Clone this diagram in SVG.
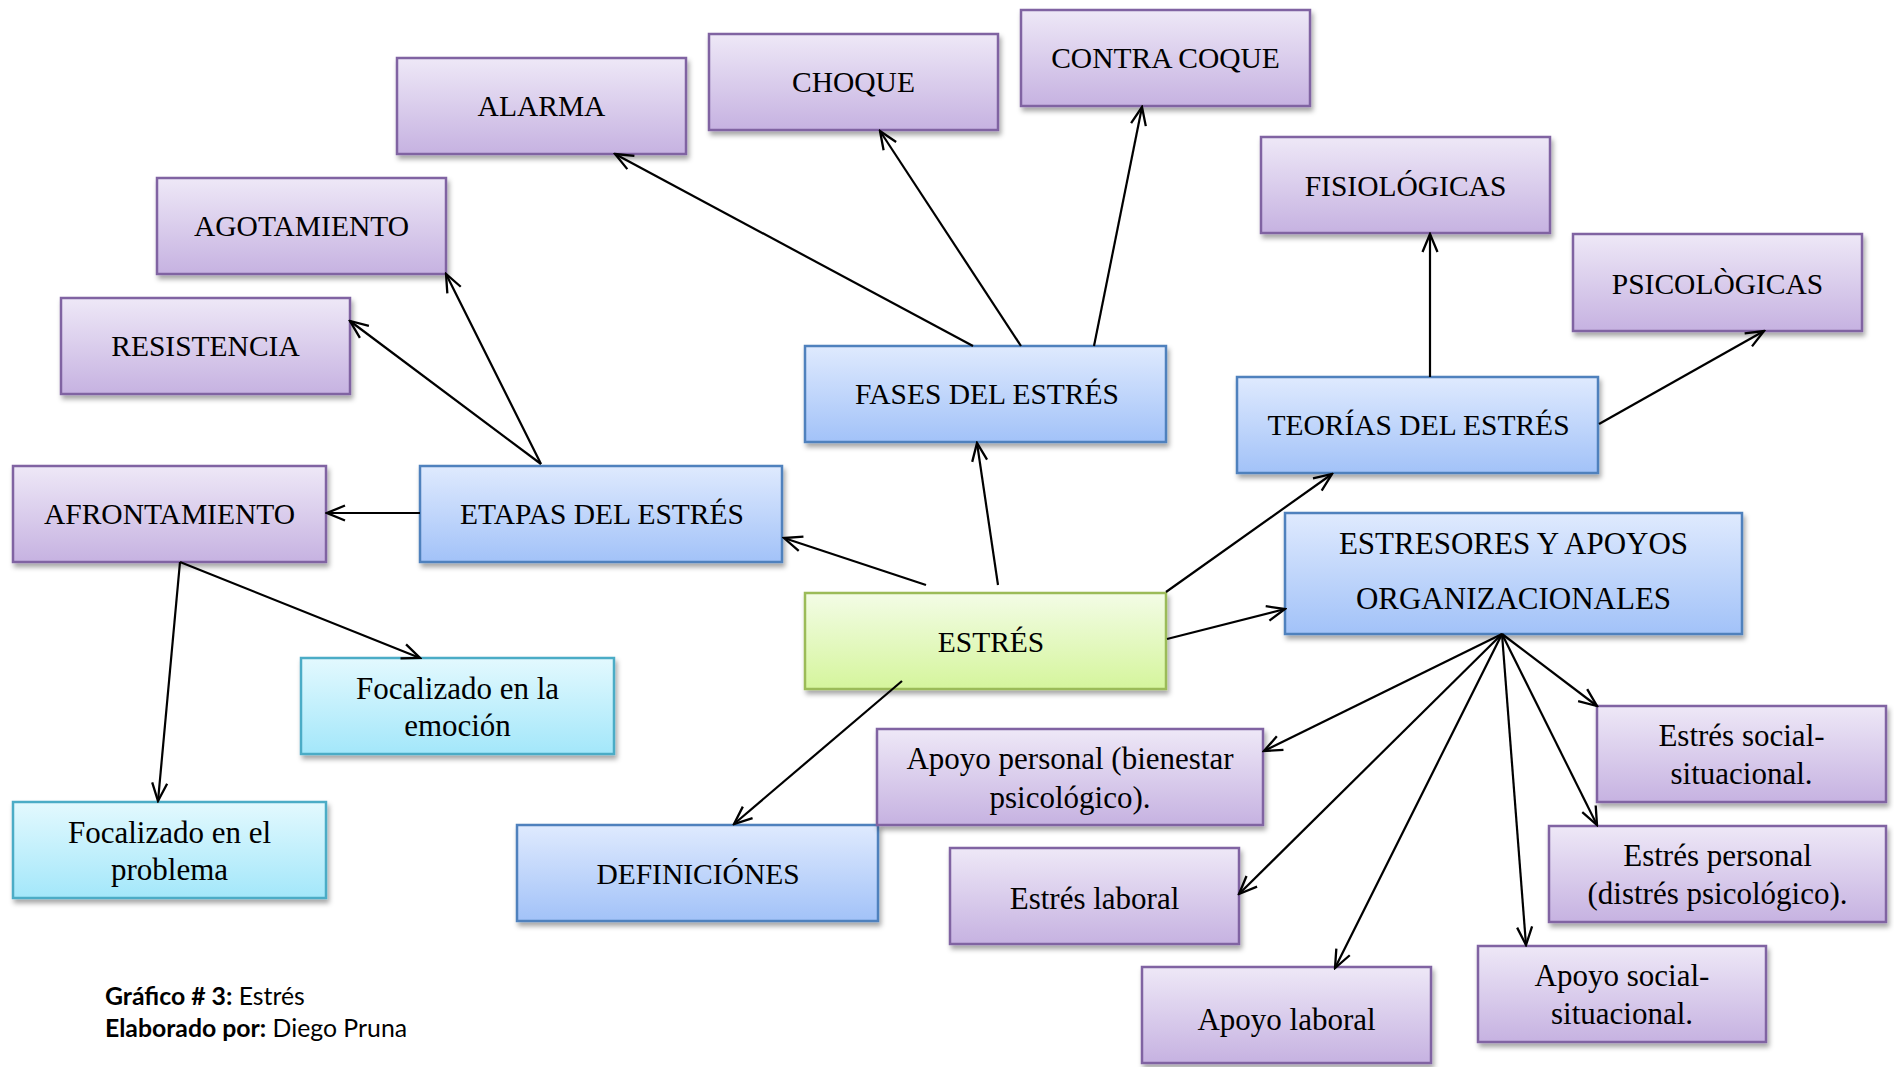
<svg xmlns="http://www.w3.org/2000/svg" width="1894" height="1067" viewBox="0 0 1894 1067">
<defs>
<linearGradient id="gP" x1="0" y1="0" x2="0" y2="1"><stop offset="0" stop-color="#eee8f7"/><stop offset="1" stop-color="#c6b2e1"/></linearGradient>
<linearGradient id="gB" x1="0" y1="0" x2="0" y2="1"><stop offset="0" stop-color="#dfeafe"/><stop offset="1" stop-color="#a2c2f8"/></linearGradient>
<linearGradient id="gG" x1="0" y1="0" x2="0" y2="1"><stop offset="0" stop-color="#f3fce6"/><stop offset="1" stop-color="#d5f59c"/></linearGradient>
<linearGradient id="gC" x1="0" y1="0" x2="0" y2="1"><stop offset="0" stop-color="#e3f9fe"/><stop offset="1" stop-color="#a3e7fa"/></linearGradient>
<filter id="sh" x="-5%" y="-5%" width="115%" height="125%"><feDropShadow dx="2" dy="4" stdDeviation="2.5" flood-color="#000" flood-opacity="0.35"/></filter>
<marker id="ah" viewBox="0 0 22 22" refX="20" refY="11" markerWidth="22" markerHeight="22" markerUnits="userSpaceOnUse" orient="auto"><path d="M2,3.5 L20,11 L2,18.5" fill="none" stroke="#000" stroke-width="2.3"/></marker>
<style>
.p{fill:url(#gP);stroke:#8064a2;stroke-width:2.5;filter:url(#sh)}
.b{fill:url(#gB);stroke:#4f81bd;stroke-width:2.5;filter:url(#sh)}
.g{fill:url(#gG);stroke:#9bbb59;stroke-width:2.5;filter:url(#sh)}
.c{fill:url(#gC);stroke:#4bacc6;stroke-width:2.5;filter:url(#sh)}
.t{font-family:"Liberation Serif","Times New Roman",serif;font-size:29.5px;fill:#000;text-anchor:middle}
.m{font-family:"Liberation Serif","Times New Roman",serif;font-size:31px;fill:#000;text-anchor:middle}
#conn line{stroke:#000;stroke-width:2.2;marker-end:url(#ah)}
.cap{font-family:Lato,"Liberation Sans",sans-serif;font-size:24.8px;fill:#000}
</style>
</defs>
<rect width="1894" height="1067" fill="#fff"/>
<g id="alarma"><rect class="p" x="397" y="58" width="289" height="96"/><text class="t" x="541.5" y="116">ALARMA</text></g>
<g id="choque"><rect class="p" x="709" y="34" width="289" height="96"/><text class="t" x="853.5" y="92">CHOQUE</text></g>
<g id="contra-coque"><rect class="p" x="1021" y="10" width="289" height="96"/><text class="t" x="1165.5" y="68">CONTRA COQUE</text></g>
<g id="agotamiento"><rect class="p" x="157" y="178" width="289" height="96"/><text class="t" x="301.5" y="236">AGOTAMIENTO</text></g>
<g id="resistencia"><rect class="p" x="61" y="298" width="289" height="96"/><text class="t" x="205.5" y="356">RESISTENCIA</text></g>
<g id="fisiologicas"><rect class="p" x="1261" y="137" width="289" height="96"/><text class="t" x="1405.5" y="196">FISIOLÓGICAS</text></g>
<g id="psicologicas"><rect class="p" x="1573" y="234" width="289" height="97"/><text class="t" x="1717.5" y="294">PSICOLÒGICAS</text></g>
<g id="fases"><rect class="b" x="805" y="346" width="361" height="96"/><text class="t" x="987" y="404">FASES DEL ESTRÉS</text></g>
<g id="teorias"><rect class="b" x="1237" y="377" width="361" height="96"/><text class="t" x="1418.5" y="435">TEORÍAS DEL ESTRÉS</text></g>
<g id="afrontamiento"><rect class="p" x="13" y="466" width="313" height="96"/><text class="t" x="169.5" y="524">AFRONTAMIENTO</text></g>
<g id="etapas"><rect class="b" x="420" y="466" width="362" height="96"/><text class="t" x="602" y="524">ETAPAS DEL ESTRÉS</text></g>
<g id="estresores"><rect class="b" x="1285" y="513" width="457" height="121"/><text class="m" x="1513.5" y="554">ESTRESORES Y APOYOS</text><text class="m" x="1513.5" y="609">ORGANIZACIONALES</text></g>
<g id="estres"><rect class="g" x="805" y="593" width="361" height="96"/><text class="t" x="991" y="652">ESTRÉS</text></g>
<g id="foc-emocion"><rect class="c" x="301" y="658" width="313" height="96"/><text class="m" x="457.5" y="699">Focalizado en la</text><text class="m" x="457.5" y="736">emoción</text></g>
<g id="foc-problema"><rect class="c" x="13" y="802" width="313" height="96"/><text class="m" x="169.5" y="843">Focalizado en el</text><text class="m" x="169.5" y="880">problema</text></g>
<g id="definiciones"><rect class="b" x="517" y="825" width="361" height="96"/><text class="t" x="698" y="884">DEFINICIÓNES</text></g>
<g id="apoyo-personal"><rect class="p" x="877" y="729" width="386" height="96"/><text class="m" x="1070" y="769">Apoyo personal (bienestar</text><text class="m" x="1070" y="808">psicológico).</text></g>
<g id="estres-laboral"><rect class="p" x="950" y="848" width="289" height="96"/><text class="m" x="1094.5" y="909">Estrés laboral</text></g>
<g id="apoyo-laboral"><rect class="p" x="1142" y="967" width="289" height="96"/><text class="m" x="1286.5" y="1030">Apoyo laboral</text></g>
<g id="estres-social"><rect class="p" x="1597" y="706" width="289" height="96"/><text class="m" x="1741.5" y="746">Estrés social-</text><text class="m" x="1741.5" y="784">situacional.</text></g>
<g id="estres-personal"><rect class="p" x="1549" y="826" width="337" height="96"/><text class="m" x="1717.5" y="866">Estrés personal</text><text class="m" x="1717.5" y="904">(distrés psicológico).</text></g>
<g id="apoyo-social"><rect class="p" x="1478" y="946" width="288" height="96"/><text class="m" x="1622" y="986">Apoyo social-</text><text class="m" x="1622" y="1024">situacional.</text></g>
<g id="conn">
<line x1="926" y1="585" x2="784" y2="538"/>
<line x1="998" y1="585" x2="977" y2="443"/>
<line x1="1166" y1="592" x2="1332" y2="474"/>
<line x1="1167" y1="639" x2="1285" y2="609"/>
<line x1="902" y1="681" x2="734" y2="824"/>
<line x1="420" y1="513" x2="327" y2="513"/>
<line x1="541" y1="464" x2="350" y2="321"/>
<line x1="541" y1="464" x2="446" y2="274"/>
<line x1="973" y1="346" x2="615" y2="154"/>
<line x1="1021" y1="346" x2="880" y2="131"/>
<line x1="1094" y1="346" x2="1142" y2="107"/>
<line x1="1430" y1="377" x2="1430" y2="234"/>
<line x1="1599" y1="424" x2="1764" y2="331"/>
<line x1="180" y1="562" x2="420" y2="658"/>
<line x1="180" y1="562" x2="158" y2="801"/>
<line x1="1502" y1="634" x2="1264" y2="751"/>
<line x1="1502" y1="634" x2="1239" y2="894"/>
<line x1="1502" y1="634" x2="1335" y2="968"/>
<line x1="1502" y1="634" x2="1526" y2="945"/>
<line x1="1502" y1="634" x2="1597" y2="825"/>
<line x1="1502" y1="634" x2="1597" y2="706"/>
</g>
<g id="caption">
<text class="cap" x="105" y="1005"><tspan font-weight="bold">Gráfico # 3:</tspan> Estrés</text>
<text class="cap" x="105" y="1037"><tspan font-weight="bold">Elaborado por:</tspan> Diego Pruna</text>
</g>
</svg>
